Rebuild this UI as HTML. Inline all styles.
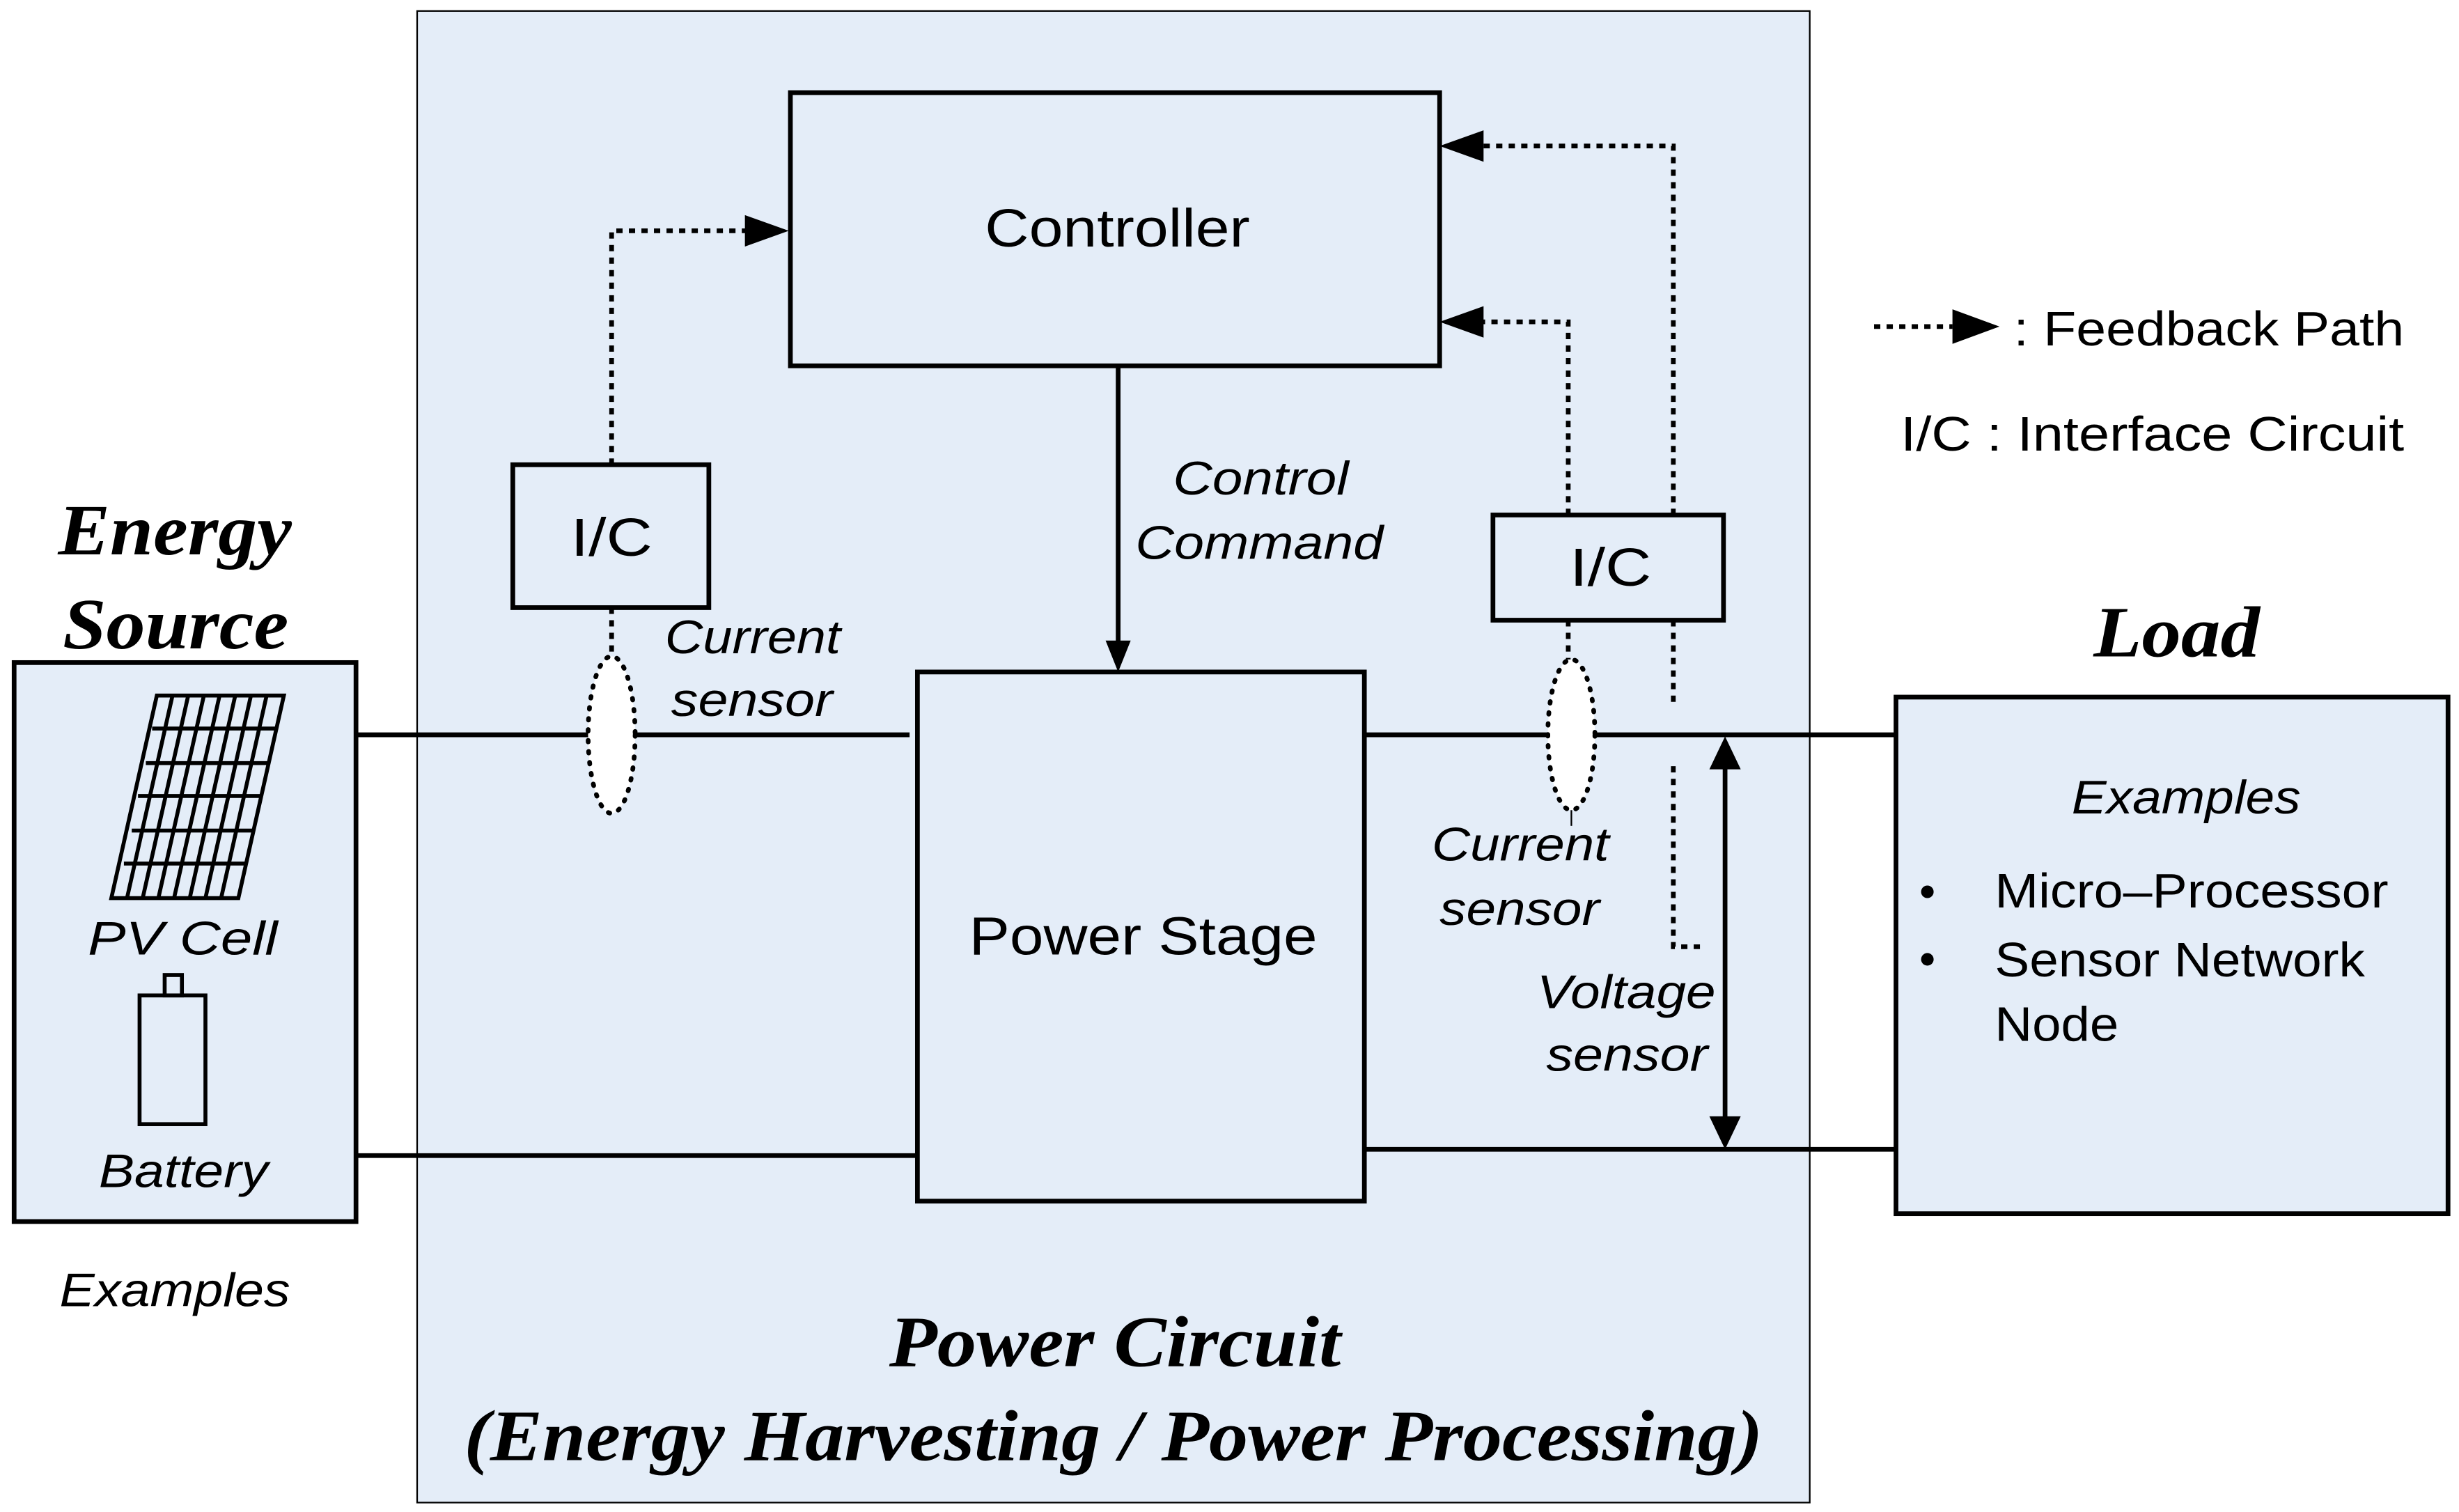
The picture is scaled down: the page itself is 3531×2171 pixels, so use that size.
<!DOCTYPE html>
<html><head><meta charset="utf-8"><style>html,body{margin:0;padding:0;background:#fff}svg{display:block}</style></head>
<body>
<svg width="3531" height="2171" viewBox="0 0 1568 963" preserveAspectRatio="none" xmlns="http://www.w3.org/2000/svg" font-family="Liberation Sans, sans-serif">
<rect width="1568" height="963" fill="#fff"/>
<rect x="266" y="7" width="888" height="950" fill="#e4edf8" stroke="#000" stroke-width="1"/>
<rect x="9" y="422" width="218" height="356" fill="#e4edf8" stroke="#000" stroke-width="3"/>
<rect x="1209" y="444" width="352" height="329" fill="#e4edf8" stroke="#000" stroke-width="3"/>
<g stroke="#000" stroke-width="3" fill="none">
<line x1="227" y1="468" x2="580" y2="468"/>
<line x1="870" y1="468" x2="1209" y2="468"/>
<line x1="227" y1="736" x2="585" y2="736"/>
<line x1="870" y1="732" x2="1209" y2="732"/>
<line x1="713" y1="233" x2="713" y2="412"/>
<line x1="1100" y1="486" x2="1100" y2="716"/>
</g>
<path d="M713,428 L705,408 L721,408z"/>
<path d="M1100,469 L1090,490 L1110,490z"/>
<path d="M1100,732 L1090,711 L1110,711z"/>
<g stroke="#000" stroke-width="3" fill="none" stroke-dasharray="4,4">
<polyline points="390,296 390,147 480,147"/>
<polyline points="390,387 390,418"/>
<polyline points="1000,328 1000,205 938,205"/>
<polyline points="1000,395 1000,420"/>
<polyline points="1067,328 1067,93 938,93"/>
<polyline points="1067,395 1067,449"/>
<polyline points="1067,488 1067,603 1087,603"/>
<line x1="1195" y1="208" x2="1245" y2="208"/>
</g>
<rect x="504" y="59" width="414" height="174" fill="#e4edf8" stroke="#000" stroke-width="3"/>
<rect x="585" y="428" width="285" height="337" fill="#e4edf8" stroke="#000" stroke-width="3"/>
<rect x="327" y="296" width="125" height="91" fill="#e4edf8" stroke="#000" stroke-width="3"/>
<rect x="952" y="328" width="147" height="67" fill="#e4edf8" stroke="#000" stroke-width="3"/>
<path d="M503,147 L475,137 L475,157z"/>
<path d="M918,205 L946,195 L946,215z"/>
<path d="M918,93 L946,83 L946,103z"/>
<path d="M1275,208 L1245,197 L1245,219z"/>
<g fill="#fff" stroke="#000" stroke-width="3" stroke-dasharray="1,6" stroke-linecap="round">
<ellipse cx="390" cy="468" rx="15" ry="50"/>
<ellipse cx="1002" cy="468" rx="15" ry="48"/>
</g>
<line x1="1002" y1="516" x2="1002" y2="526" stroke="#000" stroke-width="1"/>
<g stroke="#000" stroke-width="2.5" fill="none">
<path d="M100,443 L181,443 L152,572 L71,572z"/>
<line x1="97" y1="464" x2="176" y2="464"/>
<line x1="93" y1="486" x2="172" y2="486"/>
<line x1="88" y1="507" x2="167" y2="507"/>
<line x1="84" y1="529" x2="162" y2="529"/>
<line x1="79" y1="550" x2="157" y2="550"/>
<line x1="110" y1="443" x2="81" y2="572"/>
<line x1="120" y1="443" x2="91" y2="572"/>
<line x1="130" y1="443" x2="101" y2="572"/>
<line x1="140" y1="443" x2="111" y2="572"/>
<line x1="150" y1="443" x2="121" y2="572"/>
<line x1="160" y1="443" x2="131" y2="572"/>
<line x1="170" y1="443" x2="141" y2="572"/>
<rect x="89" y="634" width="42" height="82"/>
<rect x="105" y="621" width="11" height="13"/>
</g>
<g font-size="34" lengthAdjust="spacingAndGlyphs">
<text x="628" y="157" textLength="169" lengthAdjust="spacingAndGlyphs">Controller</text>
<text x="618" y="608" textLength="222" lengthAdjust="spacingAndGlyphs">Power Stage</text>
<text x="364" y="354" textLength="52" lengthAdjust="spacingAndGlyphs">I/C</text>
<text x="1001" y="373" textLength="52" lengthAdjust="spacingAndGlyphs">I/C</text>
</g>
<g font-size="30" font-style="italic">
<text x="748" y="315" textLength="112" lengthAdjust="spacingAndGlyphs">Control</text>
<text x="724" y="356" textLength="158" lengthAdjust="spacingAndGlyphs">Command</text>
<text x="424" y="416" textLength="112" lengthAdjust="spacingAndGlyphs">Current</text>
<text x="428" y="456" textLength="103" lengthAdjust="spacingAndGlyphs">sensor</text>
<text x="913" y="548" textLength="113" lengthAdjust="spacingAndGlyphs">Current</text>
<text x="918" y="589" textLength="102" lengthAdjust="spacingAndGlyphs">sensor</text>
<text x="980" y="642" textLength="114" lengthAdjust="spacingAndGlyphs">Voltage</text>
<text x="986" y="682" textLength="103" lengthAdjust="spacingAndGlyphs">sensor</text>
<text x="56" y="608" textLength="121" lengthAdjust="spacingAndGlyphs">PV  Cell</text>
<text x="63" y="756" textLength="108" lengthAdjust="spacingAndGlyphs">Battery</text>
<text x="38" y="832" textLength="147" lengthAdjust="spacingAndGlyphs">Examples</text>
<text x="1321" y="518" textLength="146" lengthAdjust="spacingAndGlyphs">Examples</text>
</g>
<g font-size="31">
<text x="1272" y="578" textLength="251" lengthAdjust="spacingAndGlyphs">Micro–Processor</text>
<text x="1272" y="622" textLength="236" lengthAdjust="spacingAndGlyphs">Sensor Network</text>
<text x="1272" y="663" textLength="79" lengthAdjust="spacingAndGlyphs">Node</text>
<text x="1284" y="220" textLength="249" lengthAdjust="spacingAndGlyphs">: Feedback Path</text>
<text x="1212" y="287" textLength="321" lengthAdjust="spacingAndGlyphs">I/C : Interface Circuit</text>
</g>
<circle cx="1229" cy="568" r="4"/>
<circle cx="1229" cy="611" r="4"/>
<g font-family="Liberation Serif, serif" font-weight="bold" font-style="italic" font-size="46">
<text x="37" y="353" textLength="149" lengthAdjust="spacingAndGlyphs">Energy</text>
<text x="40" y="413" textLength="144" lengthAdjust="spacingAndGlyphs">Source</text>
<text x="1335" y="418" textLength="106" lengthAdjust="spacingAndGlyphs">Load</text>
<text x="567" y="870" textLength="288" lengthAdjust="spacingAndGlyphs">Power Circuit</text>
<text x="296" y="930" textLength="828" lengthAdjust="spacingAndGlyphs">(Energy Harvesting / Power Processing)</text>
</g>
</svg>
</body></html>
